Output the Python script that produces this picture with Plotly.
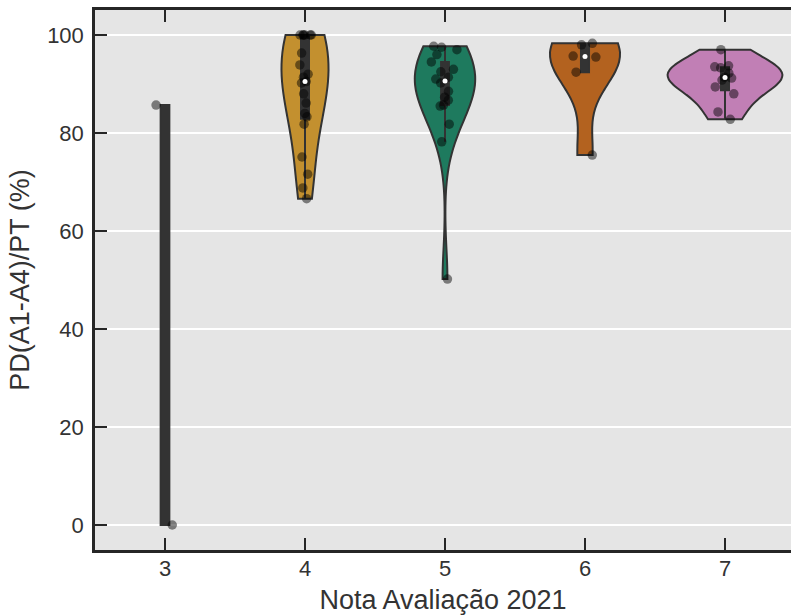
import numpy as np
import plotly.graph_objects as go

categories = [3, 4, 5, 6, 7]
vals_3 = [85.7, 0.0]
vals_4 = [100, 100, 100, 100, 100, 100, 96.3, 93.9, 92.0, 91.4, 90.5, 90.2,
          88.0, 86.1, 84.0, 83.3, 81.8, 75.1, 71.6, 68.8, 66.6]
vals_5 = [97.7, 97.5, 97.0, 96.0, 94.5, 93.0, 92.5, 91.4, 91.0, 90.2, 88.5,
          87.3, 86.7, 85.7, 85.5, 81.8, 78.2, 50.2]
vals_6 = [98.3, 98.0, 95.7, 95.5, 92.4, 75.5]
vals_7 = [97.0, 93.7, 93.5, 93.3, 92.2, 91.4, 91.2, 90.8, 89.4, 88.0, 84.3, 82.8]
series = [vals_3, vals_4, vals_5, vals_6, vals_7]

colors = ["#333333", "#C3902F", "#1E7A5E", "#B3621F", "#C17FB5"]
violin_widths = [0.06, 0.336, 0.43, 0.5, 0.82]
box_widths = [1.0, 0.17, 0.13, 0.115, 0.07]
bw_adjust = [1.0, 1.3, 1.0, 1.0, 1.3]

DARK = "#262626"
fig = go.Figure()

for cat, vals, col, vw, bw, adj in zip(categories, series, colors, violin_widths,
                                       box_widths, bw_adjust):
    v = np.asarray(vals, dtype=float)
    bandwidth = 500.0 if cat == 3 else float(adj * np.std(v, ddof=1) * len(v) ** -0.2)
    fig.add_trace(go.Violin(
        x=[cat] * len(v), y=v, width=vw, bandwidth=bandwidth,
        spanmode="hard", scalemode="width", points=False,
        fillcolor=col, opacity=1,
        line=dict(color="#333333", width=2),
        box=dict(visible=True, width=bw, fillcolor="#333333",
                 line=dict(color="#333333", width=2)),
        meanline=dict(visible=False), showlegend=False, hoverinfo="skip",
    ))

for cat, vals in zip(categories, series):
    fig.add_trace(go.Box(
        x=[cat] * len(vals), y=vals, width=0.2, boxpoints="all", jitter=1,
        pointpos=0, fillcolor="rgba(0,0,0,0)",
        line=dict(color="rgba(0,0,0,0)", width=0),
        marker=dict(color="rgba(0,0,0,0.47)", size=9.5),
        showlegend=False, hoverinfo="skip",
    ))

med_x = categories[1:]
med_y = [float(np.median(s)) for s in series[1:]]
fig.add_trace(go.Scatter(
    x=med_x, y=med_y, mode="markers",
    marker=dict(color="white", size=5), showlegend=False, hoverinfo="skip",
))

fig.update_layout(
    width=791, height=615,
    margin=dict(l=95, r=0, t=10, b=65),
    plot_bgcolor="#E5E5E5", paper_bgcolor="white",
    violinmode="overlay", boxmode="overlay",
    font=dict(family="Liberation Sans, Arial, sans-serif", color="#333333", size=22),
)
fig.update_xaxes(
    range=[2.5, 2.5 + 696 / 140], tickvals=categories,
    ticktext=[str(c) for c in categories],
    ticks="inside", ticklen=12, tickwidth=2, tickcolor=DARK,
    showline=True, linewidth=2.5, linecolor=DARK, mirror="ticks",
    showgrid=False, zeroline=False, ticklabelstandoff=-3,
    title=dict(text="Nota Avaliação 2021", font=dict(size=27), standoff=10),
)
fig.update_yaxes(
    range=[-5.1, 105.1], tickvals=[0, 20, 40, 60, 80, 100],
    ticks="inside", ticklen=12, tickwidth=2, tickcolor=DARK,
    showline=True, linewidth=2.5, linecolor=DARK, mirror=False,
    showgrid=True, gridcolor="white", gridwidth=2, zeroline=False,
    ticklabelstandoff=4,
    title=dict(text="PD(A1-A4)/PT (%)", font=dict(size=27), standoff=10),
)

fig.write_html("out.html")
